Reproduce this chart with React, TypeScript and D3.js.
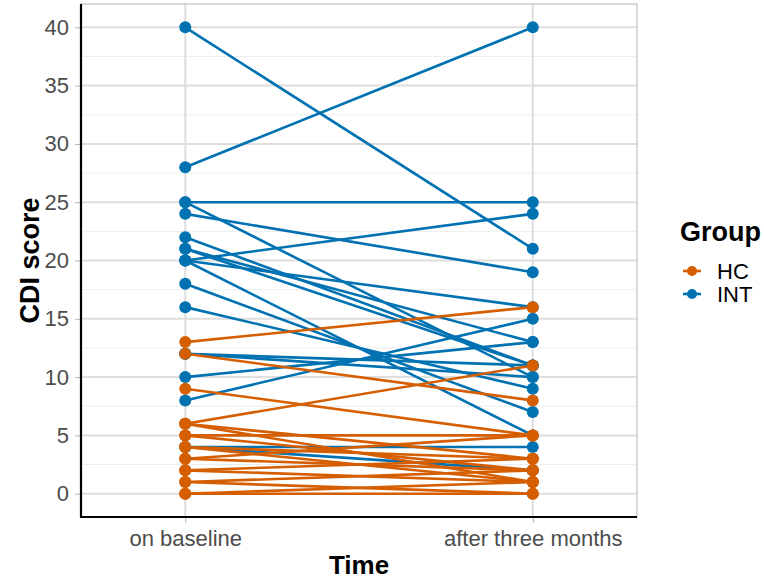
import React, { useRef, useEffect } from "react";
import * as d3 from "d3";

const timeLabels = ["on baseline", "after three months"];
const groupNames = ["HC", "INT"];
const yTicks = [0, 5, 10, 15, 20, 25, 30, 35, 40];

// HC subjects: score on baseline and after three months
const hcBaseline = [13, 12, 9, 6, 6, 6, 5, 5, 4, 4, 3, 3, 2, 2, 1, 1, 0, 0];
const hcAfter = [16, 8, 5, 11, 3, 1, 5, 2, 1, 3, 5, 2, 1, 3, 2, 0, 1, 0];

// INT subjects
const intBaseline = [40, 28, 25, 25, 24, 22, 21, 21, 20, 20, 20, 18, 16, 12, 12, 10, 8, 4, 4];
const intAfter = [21, 40, 25, 10, 19, 11, 13, 11, 24, 16, 5, 7, 9, 11, 10, 13, 15, 4, 2];

const colors = ["#D55E00", "#0072B2"];

const App = () => {
    const svgRef = useRef(null);

    useEffect(() => {
        const width = 764;
        const height = 581;
        const margin = { top: 4, right: 127, bottom: 64, left: 81 };
        const font = "'Liberation Sans', Arial, sans-serif";

        const svg = d3.select(svgRef.current).attr("width", width).attr("height", height);
        svg.selectAll("*").remove();

        const x = d3.scaleLinear().domain([0.7, 2.3]).range([margin.left, width - margin.right]);
        const y = d3.scaleLinear().domain([-2, 42]).range([height - margin.bottom, margin.top]);

        const [x0, x1] = x.range();
        const [yb, yt] = y.range();

        // minor grid
        const minor = d3.range(2.5, 40, 5);
        svg.append("g")
            .selectAll("line")
            .data(minor)
            .enter()
            .append("line")
            .attr("x1", x0).attr("x2", x1)
            .attr("y1", (d) => y(d)).attr("y2", (d) => y(d))
            .attr("stroke", "#EDEDED")
            .attr("stroke-width", 1);

        // major grid
        svg.append("g")
            .selectAll("line")
            .data(yTicks)
            .enter()
            .append("line")
            .attr("x1", x0).attr("x2", x1)
            .attr("y1", (d) => y(d)).attr("y2", (d) => y(d))
            .attr("stroke", "#DEDEDE")
            .attr("stroke-width", 2);

        svg.append("g")
            .selectAll("line")
            .data(timeLabels)
            .enter()
            .append("line")
            .attr("x1", (d, i) => x(i + 1)).attr("x2", (d, i) => x(i + 1))
            .attr("y1", yb).attr("y2", yt)
            .attr("stroke", "#DEDEDE")
            .attr("stroke-width", 2);

        // panel border (top / right)
        svg.append("rect")
            .attr("x", x0).attr("y", yt)
            .attr("width", x1 - x0).attr("height", yb - yt)
            .attr("fill", "none")
            .attr("stroke", "#B3B3B3")
            .attr("stroke-width", 1);

        const series = [
            { name: groupNames[0], base: hcBaseline, after: hcAfter, color: colors[0] },
            { name: groupNames[1], base: intBaseline, after: intAfter, color: colors[1] },
        ];
        const drawOrder = [series[1], series[0]];

        drawOrder.forEach((s) => {
            svg.append("g")
                .selectAll("line")
                .data(s.base.map((b, i) => [b, s.after[i]]))
                .enter()
                .append("line")
                .attr("x1", x(1)).attr("x2", x(2))
                .attr("y1", (d) => y(d[0])).attr("y2", (d) => y(d[1]))
                .attr("stroke", s.color)
                .attr("stroke-width", 2.6);
        });

        drawOrder.forEach((s) => {
            const pts = [];
            s.base.forEach((b, i) => {
                pts.push([1, b]);
                pts.push([2, s.after[i]]);
            });
            svg.append("g")
                .selectAll("circle")
                .data(pts)
                .enter()
                .append("circle")
                .attr("cx", (d) => x(d[0]))
                .attr("cy", (d) => y(d[1]))
                .attr("r", 6)
                .attr("fill", s.color);
        });

        // axes
        const yAxis = d3.axisLeft(y).tickValues(yTicks).tickSize(6).tickPadding(6);
        const gy = svg.append("g").attr("transform", `translate(${x0}, 0)`).call(yAxis);
        gy.select(".domain").remove();
        gy.selectAll("line").attr("stroke", "#B3B3B3");
        gy.selectAll("text")
            .attr("fill", "#4D4D4D")
            .style("font-size", "22px")
            .style("font-family", font);

        const xAxis = d3.axisBottom(x).tickValues([1, 2]).tickFormat((d, i) => timeLabels[i]).tickSize(6).tickPadding(7);
        const gx = svg.append("g").attr("transform", `translate(0, ${yb})`).call(xAxis);
        gx.select(".domain").remove();
        gx.selectAll("line").attr("stroke", "#B3B3B3");
        gx.selectAll("text")
            .attr("fill", "#4D4D4D")
            .style("font-size", "22px")
            .style("font-family", font);

        // black axis lines
        svg.append("line")
            .attr("x1", x0).attr("x2", x0).attr("y1", yt).attr("y2", yb + 1)
            .attr("stroke", "#000").attr("stroke-width", 2.2);
        svg.append("line")
            .attr("x1", x0 - 1).attr("x2", x1).attr("y1", yb).attr("y2", yb)
            .attr("stroke", "#000").attr("stroke-width", 2.2);

        // titles
        svg.append("text")
            .attr("x", (x0 + x1) / 2).attr("y", 574)
            .attr("text-anchor", "middle")
            .style("font-size", "26px").style("font-weight", "bold").style("font-family", font)
            .text("Time");

        svg.append("text")
            .attr("transform", `translate(39, ${(yb + yt) / 2}) rotate(-90)`)
            .attr("text-anchor", "middle")
            .style("font-size", "27px").style("font-weight", "bold").style("font-family", font)
            .text("CDI score");

        // legend
        const lg = svg.append("g").attr("transform", "translate(680, 0)");
        lg.append("text")
            .attr("x", 0).attr("y", 241)
            .style("font-size", "27px").style("font-weight", "bold").style("font-family", font)
            .text("Group");
        series.forEach((s, i) => {
            const cy = 271 + i * 23;
            lg.append("line")
                .attr("x1", 3).attr("x2", 21).attr("y1", cy).attr("y2", cy)
                .attr("stroke", s.color).attr("stroke-width", 2.6);
            lg.append("circle").attr("cx", 12).attr("cy", cy).attr("r", 5).attr("fill", s.color);
            lg.append("text")
                .attr("x", 37).attr("y", cy + 8)
                .attr("fill", "#000")
                .style("font-size", "22px").style("font-family", font)
                .text(s.name);
        });
    }, []);

    return (
        <div>
            <svg ref={svgRef} style={{ position: "absolute", left: 0, top: 0, display: "block", background: "#fff" }}></svg>
        </div>
    );
};

export default App;
